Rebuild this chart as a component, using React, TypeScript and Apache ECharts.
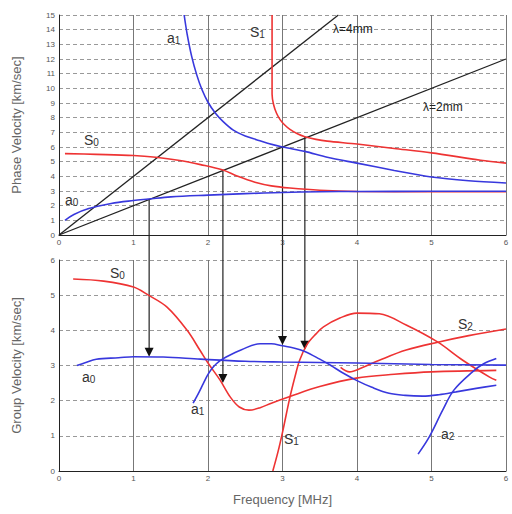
import React, { useEffect, useRef } from "react";
import * as echarts from "echarts";

// ---------- data ----------
const freqMin = 0;
const freqMax = 6;
const phaseMax = 15;
const groupMax = 6;

// wavelength lines (phase velocity = lambda * f)
const lambda4 = [[0, 0], [3.75, 15]];
const lambda2 = [[0, 0], [6, 12]];

// phase velocity dispersion curves [MHz, km/s]
const phaseA0 = [[0.08, 1.0], [0.2, 1.4], [0.4, 1.8], [0.7, 2.15], [1.0, 2.35], [1.2, 2.45], [1.5, 2.6], [2.0, 2.72], [2.5, 2.82], [3.0, 2.9], [3.5, 2.95], [4.0, 2.97], [5.0, 2.98], [6.0, 2.98]];
const phaseS0 = [[0.08, 5.55], [0.5, 5.5], [1.0, 5.42], [1.3, 5.3], [1.6, 5.1], [1.9, 4.8], [2.2, 4.43], [2.4, 4.0], [2.63, 3.6], [2.85, 3.35], [3.1, 3.2], [3.5, 3.05], [4.0, 2.97], [5.0, 2.95], [6.0, 2.95]];
const phaseA1 = [[1.68, 15], [1.72, 13.7], [1.78, 12.2], [1.85, 10.9], [1.92, 9.9], [2.0, 9.05], [2.1, 8.3], [2.2, 7.75], [2.34, 7.15], [2.5, 6.75], [2.65, 6.5], [2.8, 6.25], [3.0, 6.0], [3.3, 5.7], [3.6, 5.3], [4.0, 4.9], [4.5, 4.4], [5.0, 3.95], [5.5, 3.7], [6.0, 3.55]];
const phaseS1 = [[2.86, 15], [2.86, 12], [2.86, 9.6], [2.88, 8.9], [2.92, 8.3], [2.97, 7.85], [3.03, 7.5], [3.1, 7.2], [3.2, 6.9], [3.3, 6.7], [3.45, 6.52], [3.6, 6.4], [4.0, 6.2], [4.5, 5.9], [5.0, 5.6], [5.66, 5.1], [6.0, 4.9]];

// group velocity dispersion curves [MHz, km/s]
const groupA0 = [[0.24, 3.0], [0.35, 3.08], [0.5, 3.18], [0.8, 3.22], [1.0, 3.25], [1.4, 3.24], [1.9, 3.18], [2.5, 3.12], [3.0, 3.1], [4.0, 3.07], [5.0, 3.03], [6.0, 3.01]];
const groupS0 = [[0.19, 5.46], [0.6, 5.4], [1.0, 5.23], [1.2, 5.0], [1.45, 4.66], [1.72, 4.0], [1.89, 3.44], [2.0, 3.07], [2.16, 2.59], [2.3, 2.1], [2.42, 1.82], [2.55, 1.73], [2.7, 1.8], [2.85, 1.93], [3.1, 2.12], [3.5, 2.4], [3.99, 2.64], [4.5, 2.75], [5.0, 2.82], [5.87, 2.86]];
const groupA1 = [[1.8, 1.93], [1.87, 2.2], [1.94, 2.5], [2.0, 2.75], [2.07, 2.96], [2.15, 3.12], [2.25, 3.25], [2.45, 3.45], [2.7, 3.62], [2.85, 3.62], [3.0, 3.56], [3.15, 3.5], [3.3, 3.4], [3.5, 3.18], [3.65, 3.0], [3.8, 2.8], [4.0, 2.57], [4.2, 2.38], [4.43, 2.21], [4.65, 2.15], [4.88, 2.13], [5.1, 2.17], [5.33, 2.25], [5.6, 2.35], [5.87, 2.44]];
const groupS1 = [[2.87, 0.0], [2.94, 0.55], [3.0, 1.1], [3.1, 2.1], [3.17, 2.7], [3.23, 3.15], [3.33, 3.6], [3.45, 3.9], [3.55, 4.1], [3.77, 4.35], [4.0, 4.49], [4.3, 4.47], [4.66, 4.15], [5.08, 3.67], [5.42, 3.15], [5.78, 2.67], [5.87, 2.58]];
const groupS2 = [[3.78, 2.95], [3.9, 2.82], [4.05, 2.92], [4.3, 3.15], [4.66, 3.44], [5.1, 3.67], [5.5, 3.85], [6.0, 4.04]];
const groupA2 = [[4.82, 0.48], [4.97, 0.97], [5.15, 1.73], [5.3, 2.3], [5.55, 2.82], [5.7, 3.05], [5.87, 3.2]];

// vertical projection arrows: frequency, phase-velocity start, group-velocity end
const dropFreq = [1.21, 2.2, 3.0, 3.3];
const dropPhase = [2.45, 4.43, 6.0, 6.68];
const dropGroup = [3.25, 2.5, 3.58, 3.45];

// ---------- styling ----------
const RED = "#ee3333";
const BLUE = "#3838dd";
const FONT = "Liberation Sans";

function curve(data: number[][], color: string, gi: number, smooth = 0.35) {
  return {
    type: "line",
    xAxisIndex: gi,
    yAxisIndex: gi,
    data,
    symbol: "none",
    smooth,
    lineStyle: { color, width: 1.6 },
    silent: true,
  };
}

function modeLabel(letter: string, sub: string, left: number, top: number) {
  return {
    type: "text",
    left,
    top,
    silent: true,
    style: {
      text: `{m|${letter}}{s|${sub}}`,
      rich: {
        m: { fontSize: 14, fontFamily: FONT, fill: "#333", verticalAlign: "bottom" },
        s: { fontSize: 10, fontFamily: FONT, fill: "#333", padding: [6, 0, 0, 0], verticalAlign: "bottom" },
      },
    },
  };
}

export default function App() {
  const ref = useRef<HTMLDivElement>(null);
  useEffect(() => {
    if (!ref.current) return;
    const chart = echarts.init(ref.current, null, { renderer: "svg" });
    const axisLabel = { fontSize: 8, color: "#555", fontFamily: FONT };
    const xAxisBase = {
      type: "value",
      min: freqMin,
      max: freqMax,
      interval: 1,
      axisLine: { show: true, onZero: false, lineStyle: { color: "#222", width: 1 } },
      axisTick: { show: false },
      splitLine: { show: true, lineStyle: { color: "#777", width: 1 } },
      axisLabel: { ...axisLabel, margin: 3 },
    };
    const yAxisBase = {
      type: "value",
      min: 0,
      interval: 1,
      axisLine: { show: true, lineStyle: { color: "#222", width: 1 } },
      axisTick: { show: false },
      splitLine: { show: true, lineStyle: { color: "#999", width: 1, type: [4, 3] } },
      axisLabel: { ...axisLabel, margin: 4 },
      nameLocation: "middle",
      nameGap: 36,
      nameTextStyle: { fontSize: 13, color: "#666", fontFamily: FONT },
    };
    chart.setOption({
      animation: false,
      backgroundColor: "#fff",
      grid: [
        { left: 59, top: 15, width: 447, height: 220 },
        { left: 59, top: 260, width: 447, height: 211 },
      ],
      xAxis: [
        { ...xAxisBase, gridIndex: 0 },
        {
          ...xAxisBase,
          gridIndex: 1,
          name: "Frequency [MHz]",
          nameLocation: "middle",
          nameGap: 22,
          nameTextStyle: { fontSize: 13, color: "#666", fontFamily: FONT },
        },
      ],
      yAxis: [
        { ...yAxisBase, gridIndex: 0, max: phaseMax, name: "Phase Velocity [km/sec]" },
        { ...yAxisBase, gridIndex: 1, max: groupMax, name: "Group Velocity [km/sec]" },
      ],
      series: [
        { ...curve(lambda4, "#222", 0, 0), lineStyle: { color: "#222", width: 1.3 } },
        { ...curve(lambda2, "#222", 0, 0), lineStyle: { color: "#222", width: 1.3 } },
        curve(phaseS0, RED, 0),
        curve(phaseS1, RED, 0, 0.3),
        curve(phaseA0, BLUE, 0),
        curve(phaseA1, BLUE, 0, 0.3),
        curve(groupS0, RED, 1),
        curve(groupS1, RED, 1),
        curve(groupS2, RED, 1),
        curve(groupA0, BLUE, 1),
        curve(groupA1, BLUE, 1),
        curve(groupA2, BLUE, 1),
      ],
    });

    const graphics: any[] = [];
    dropFreq.forEach((f, i) => {
      const p0 = chart.convertToPixel({ gridIndex: 0 }, [f, dropPhase[i]]) as number[];
      const p1 = chart.convertToPixel({ gridIndex: 1 }, [f, dropGroup[i]]) as number[];
      graphics.push({
        type: "line",
        silent: true,
        shape: { x1: p0[0], y1: p0[1], x2: p1[0], y2: p1[1] - 8 },
        style: { stroke: "#222", lineWidth: 1.2 },
      });
      graphics.push({
        type: "polygon",
        silent: true,
        shape: { points: [[p1[0] - 4.5, p1[1] - 9], [p1[0] + 4.5, p1[1] - 9], [p1[0], p1[1]]] },
        style: { fill: "#111" },
      });
    });
    graphics.push(
      { type: "text", left: 333, top: 23, silent: true, style: { text: "λ=4mm", fontSize: 12, fontFamily: FONT, fill: "#222" } },
      { type: "text", left: 423, top: 101, silent: true, style: { text: "λ=2mm", fontSize: 12, fontFamily: FONT, fill: "#222" } },
      modeLabel("a", "1", 167, 31),
      modeLabel("S", "1", 250, 25),
      modeLabel("S", "0", 84, 133),
      modeLabel("a", "0", 65, 193),
      modeLabel("S", "0", 110, 266),
      modeLabel("a", "0", 82, 370),
      modeLabel("a", "1", 191, 402),
      modeLabel("S", "1", 284, 432),
      modeLabel("S", "2", 458, 317),
      modeLabel("a", "2", 441, 427)
    );
    chart.setOption({ graphic: graphics });

    return () => chart.dispose();
  }, []);
  return (
    <div
      ref={ref}
      style={{ position: "fixed", left: 0, top: 0, width: 512, height: 514, background: "#fff" }}
    />
  );
}
